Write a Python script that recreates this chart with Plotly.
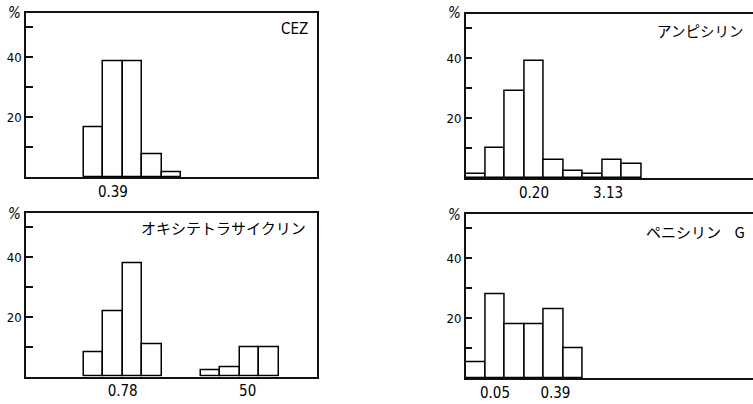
import plotly.graph_objects as go

W, H = 753, 404

# ---- data (bins are MIC dilution steps; values are % of strains) ----
cez_bins = [3, 4, 5, 6, 7]
cez_vals = [16.7, 38.7, 38.7, 7.7, 1.6]
cez_tick_pos = [4.5]
cez_tick_labels = ["0.39"]

abpc_bins = [0, 1, 2, 3, 4, 5, 6, 7, 8]
abpc_vals = [1.5, 10.0, 29.0, 38.9, 6.0, 2.4, 1.4, 6.0, 4.9]
abpc_tick_pos = [3.5, 7.3]
abpc_tick_labels = ["0.20", "3.13"]

otc_bins = [3, 4, 5, 6, 9, 10, 11, 12]
otc_vals = [8.3, 22.0, 38.0, 11.0, 2.0, 3.0, 9.8, 9.8]
otc_tick_pos = [5.0, 11.4]
otc_tick_labels = ["0.78", "50"]

pcg_bins = [0, 1, 2, 3, 4, 5]
pcg_vals = [5.2, 27.9, 18.0, 18.0, 23.1, 10.0]
pcg_tick_pos = [1.5, 4.6]
pcg_tick_labels = ["0.05", "0.39"]

titles = ["CEZ", "アンピシリン", "オキシテトラサイクリン",
          "ペニシリン\u00a0\u00a0\u00a0\u00a0G"]
y_tick_vals = [10, 20, 30, 40, 50]
y_tick_text = ["", "20", "", "40", ""]

NUM_FONT = "Liberation Sans Narrow, DejaVu Sans Condensed, Liberation Sans, Arial"
CJK_FONT = "Noto Sans CJK JP, Noto Sans"

# panel boxes in pixels: (left, right, top, bottom)
panels = [
    dict(bins=cez_bins, vals=cez_vals, tp=cez_tick_pos, tl=cez_tick_labels,
         box=(26, 317, 13.3, 177), xr=[0.05, 14.95], right=False),
    dict(bins=abpc_bins, vals=abpc_vals, tp=abpc_tick_pos, tl=abpc_tick_labels,
         box=(465.7, 753, 14, 178.3), xr=[0, 14.73], right=True),
    dict(bins=otc_bins, vals=otc_vals, tp=otc_tick_pos, tl=otc_tick_labels,
         box=(26, 317, 213.3, 376.7), xr=[0.05, 14.95], right=False),
    dict(bins=pcg_bins, vals=pcg_vals, tp=pcg_tick_pos, tl=pcg_tick_labels,
         box=(465.7, 753, 214.3, 378.3), xr=[0, 14.73], right=True),
]

fig = go.Figure()
layout = {}
annotations = []

title_pos = [(310, 28.7), (745, 30.5), (308, 228), (747, 232)]
title_sizes = [15, 14.5, 15, 15]
pct_pos = [(14.5, 13), (454, 13), (14.5, 214), (454, 215)]

for i, p in enumerate(panels):
    n = i + 1
    xa = "x" if n == 1 else f"x{n}"
    ya = "y" if n == 1 else f"y{n}"
    l, r, t, b = p["box"]
    fig.add_trace(go.Bar(
        x=[k + 0.5 for k in p["bins"]], y=p["vals"], width=1.0,
        marker=dict(color="white", line=dict(color="black", width=1.5)),
        xaxis=xa, yaxis=ya, showlegend=False, hoverinfo="skip",
    ))
    layout["xaxis" if n == 1 else f"xaxis{n}"] = dict(
        domain=[l / W, min(r / W, 1.0)], anchor=ya, range=p["xr"],
        showline=True, linecolor="#111", linewidth=1.5, mirror=True,
        showgrid=False, zeroline=False, ticks="",
        tickvals=p["tp"], ticktext=p["tl"],
        tickfont=dict(family=NUM_FONT, size=15, color="black"),
    )
    layout["yaxis" if n == 1 else f"yaxis{n}"] = dict(
        domain=[1 - b / H, 1 - t / H], anchor=xa, range=[0, 54.7],
        showline=True, linecolor="#111", linewidth=1.5,
        mirror=(not p["right"]),
        showgrid=False, zeroline=False, ticks="inside", ticklen=7,
        tickwidth=1.5, tickcolor="#111",
        tickvals=y_tick_vals, ticktext=y_tick_text,
        tickfont=dict(family=NUM_FONT, size=13, color="black"),
    )
    tx, ty = title_pos[i]
    annotations.append(dict(
        x=tx / W, y=1 - ty / H, xref="paper", yref="paper",
        xanchor="right", yanchor="middle", showarrow=False,
        text=titles[i],
        font=dict(family=(NUM_FONT if i == 0 else CJK_FONT),
                  size=title_sizes[i], color="black"),
    ))
    px_, py_ = pct_pos[i]
    annotations.append(dict(
        x=px_ / W, y=1 - py_ / H, xref="paper", yref="paper",
        xanchor="center", yanchor="middle", showarrow=False,
        text="<i>%</i>", font=dict(family=NUM_FONT, size=15, color="black"),
    ))

fig.update_layout(
    width=W, height=H, margin=dict(l=0, r=0, t=0, b=0),
    paper_bgcolor="white", plot_bgcolor="white",
    bargap=0, annotations=annotations, **layout,
)

fig.write_html("out.html")
